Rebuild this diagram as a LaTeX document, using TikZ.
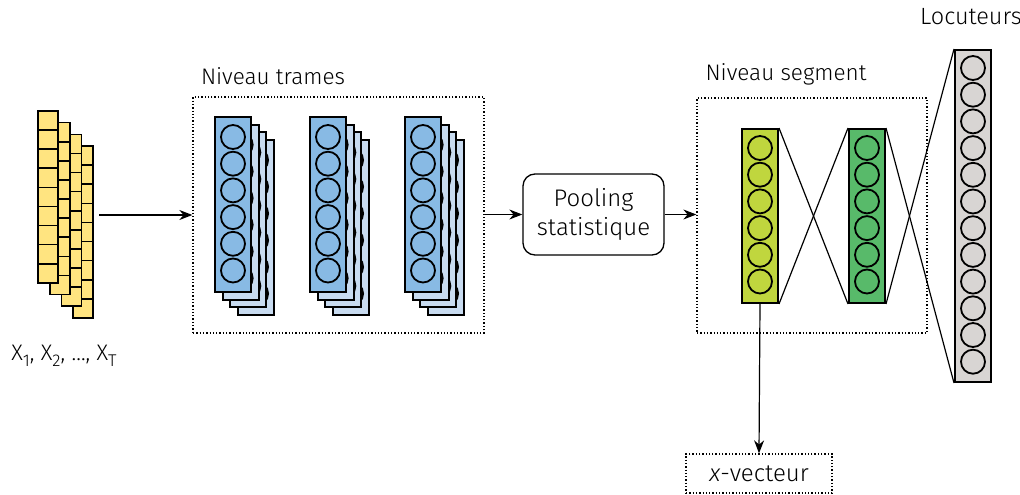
\documentclass[tikz,border=0pt]{standalone}
\usepackage{fontspec}
\setmainfont{Fira Sans}[UprightFont={* Light},ItalicFont={* Light Italic}]
\usetikzlibrary{arrows.meta,calc,positioning}

\definecolor{frameyellow}{RGB}{255,228,128}
\definecolor{bluefront}{RGB}{136,186,228}
\definecolor{blueback}{RGB}{200,219,240}
\definecolor{limegreen}{RGB}{192,214,62}
\definecolor{midgreen}{RGB}{88,186,106}
\definecolor{spkgrey}{RGB}{216,213,211}

\newcommand{\lowidx}[1]{\raisebox{-0.5ex}{\fontsize{17}{17}\selectfont #1}}

\begin{document}
\begin{tikzpicture}[x=1pt,y=-1pt,>={Stealth[length=13pt,width=10pt]},
    cell/.style={rectangle,draw,line width=1.6pt,fill=frameyellow,minimum width=20pt,minimum height=19.1pt,inner sep=0pt},
    layer/.style={rectangle,draw,line width=2pt,minimum width=36pt,minimum height=175pt,inner sep=0pt,anchor=north west},
    neuron/.style={circle,draw,line width=1.8pt,minimum size=24pt,inner sep=0pt},
    level/.style={rectangle,draw,dotted,line width=1.3pt,inner sep=0pt},
    heading/.style={font=\fontsize{22.5}{27}\selectfont}]

    \useasboundingbox (0,0) rectangle (1020,495);

    % input frames
    \foreach \k in {3,2,1,0} {
        \foreach \i in {0,...,8}
            \node[cell] (x-\k-\i) at ({48+11.7*\k},{120.5+11.7*\k+19.1*\i}) {};
    }
    \node[heading] (xlabel) at (64,356) {X\lowidx{1}, X\lowidx{2}, \dots, X\lowidx{T}};

    % frame level
    \node[level,minimum width=291pt,minimum height=236pt] (frames) at (338.5,215) {};
    \node[heading] (frames label) at (273,76) {Niveau trames};
    \foreach \g in {0,1,2} {
        \foreach \l/\c in {3/blueback,2/blueback,1/blueback,0/bluefront} {
            \node[layer,fill=\c] (t-\g-\l) at ({214+95*\g+7.7*\l},{116+7.7*\l}) {};
            \foreach \i in {0,...,5}
                \node[neuron,fill=\c] (t-\g-\l-\i) at ($(t-\g-\l.north)+(0,21+26.7*\i)$) {};
        }
    }

    \node[heading,font=\fontsize{24}{29}\selectfont,draw,rounded corners=12pt,line width=1.3pt,minimum width=141pt,minimum height=81pt,align=center] (pool) at (593.5,214.5) {Pooling\\statistique};

    % segment level
    \node[level,minimum width=230pt,minimum height=235pt] (segment) at (812,215.5) {};
    \node[heading] (segment label) at (786,74) {Niveau segment};
    \node[layer,fill=limegreen,minimum height=174pt] (h1) at (741,128) {};
    \node[layer,fill=midgreen,minimum height=174pt] (h2) at (848,128) {};
    \foreach \i in {0,...,5} {
        \node[neuron,fill=limegreen] (h1-\i) at ($(h1.north)+(0,20+26.7*\i)$) {};
        \node[neuron,fill=midgreen] (h2-\i) at ($(h2.north)+(0,20+26.7*\i)$) {};
    }

    % speakers
    \node[heading,font=\fontsize{23.5}{28}\selectfont] (spk label) at (971,17) {Locuteurs};
    \node[layer,fill=spkgrey,minimum height=332pt] (spk) at (954,49) {};
    \foreach \i in {0,...,11}
        \node[neuron,fill=spkgrey] (spk-\i) at ($(spk.north)+(0,19+26.7*\i)$) {};

    \node[heading,font=\fontsize{24}{29}\selectfont,level,minimum width=146pt,minimum height=39pt] (xvec) at (759,473.5) {\textit{x}-vecteur};

    \coordinate (in) at (99,215);

    \path[->,line width=1.2pt]
        (in) edge (frames.west)
        (frames.east |- pool.west) edge (pool.west)
        (pool.east) edge (segment.west |- pool.east)
        (h1.south) edge (xvec.north)
    ;
    \path[line width=1.2pt]
        (h1.north east) edge (h2.south west)
        (h1.south east) edge (h2.north west)
        (h2.north east) edge (spk.south west)
        (h2.south east) edge (spk.north west)
    ;
\end{tikzpicture}
\end{document}
